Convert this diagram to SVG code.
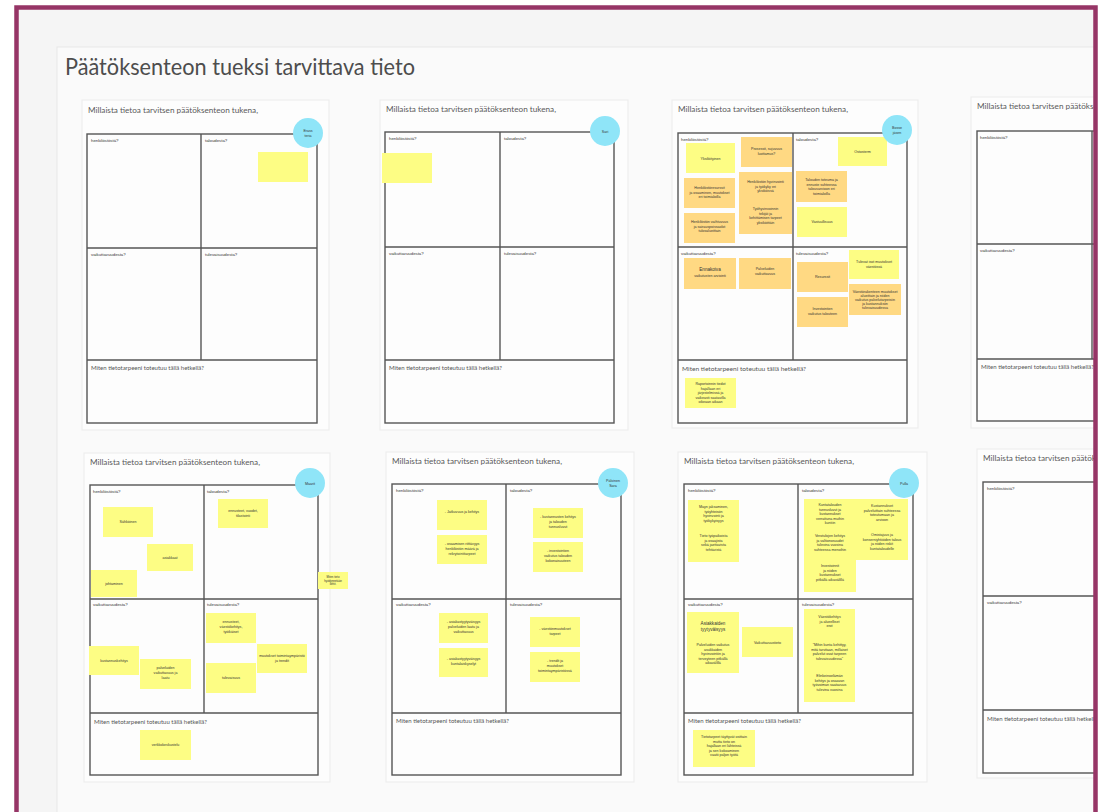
<svg xmlns="http://www.w3.org/2000/svg" width="1102" height="812" viewBox="0 0 1102 812">
<style>
.bg{fill:#f5f5f5}
.panel{fill:#fafafa;stroke:#e8e8e8;stroke-width:1}
.card{fill:#fdfdfd;stroke:#ebebeb;stroke-width:1}
.grid{fill:none;stroke:#555;stroke-width:1.4}
.title{font-family:Lato,"Liberation Sans",sans-serif;font-size:23px;fill:#4d4d4d}
.ct{font-family:Lato,"Liberation Sans",sans-serif;font-size:6.6px;fill:#5a5a5a}
.ql{font-family:"Liberation Sans",sans-serif;font-size:4.3px;fill:#333}
.bl{font-family:Lato,"Liberation Sans",sans-serif;font-size:6px;fill:#555}
.y{fill:#fdfd84}
.o{fill:#ffd983}
.st{font-family:"Liberation Sans",sans-serif;font-size:3.6px;fill:#333;text-anchor:middle}
.sb{font-family:"Liberation Sans",sans-serif;font-size:4.6px;fill:#333;text-anchor:middle}
.av{fill:#8fe5f8}
.at{font-family:"Liberation Sans",sans-serif;font-size:3.6px;fill:#333;text-anchor:middle}
.frame{fill:none;stroke:#963566;stroke-width:4.5}
</style>
<rect x="0" y="0" width="1102" height="812" fill="#ffffff"/>
<rect class="bg" x="16" y="7" width="1080" height="810"/>
<rect class="panel" x="57" y="47" width="1060" height="780"/>
<text class="title" x="65" y="75" textLength="350" lengthAdjust="spacingAndGlyphs">Päätöksenteon tueksi tarvittava tieto</text>

<!-- Card 1 -->
<g id="card1">
<rect class="card" x="82" y="100" width="247" height="330"/>
<text class="ct" x="88" y="113" textLength="170" lengthAdjust="spacingAndGlyphs">Millaista tietoa tarvitsen päätöksenteon tukena,</text>
<rect class="grid" x="87" y="134" width="230" height="289"/>
<line class="grid" x1="201" y1="134" x2="201" y2="360"/>
<line class="grid" x1="87" y1="248" x2="317" y2="248"/>
<line class="grid" x1="87" y1="360" x2="317" y2="360"/>
<text class="ql" x="91" y="142">henkilöstöstä?</text>
<text class="ql" x="205" y="142">taloudesta?</text>
<text class="ql" x="91" y="256">vaikuttavuudesta?</text>
<text class="ql" x="205" y="256">tulevaisuudesta?</text>
<text class="bl" x="91" y="370">Miten tietotarpeeni toteutuu tällä hetkellä?</text>
<rect class="y" x="258" y="152" width="50" height="30"/>
<circle class="av" cx="308" cy="133" r="15"/>
<text class="at" x="308" y="132">Erass</text>
<text class="at" x="308" y="137">teria</text>
</g>

<!-- Card 2 -->
<g id="card2">
<rect class="card" x="380" y="100" width="248" height="330"/>
<text class="ct" x="386" y="112" textLength="170" lengthAdjust="spacingAndGlyphs">Millaista tietoa tarvitsen päätöksenteon tukena,</text>
<rect class="grid" x="385" y="132" width="229" height="291"/>
<line class="grid" x1="500" y1="132" x2="500" y2="360"/>
<line class="grid" x1="385" y1="247" x2="614" y2="247"/>
<line class="grid" x1="385" y1="360" x2="614" y2="360"/>
<text class="ql" x="389" y="140">henkilöstöstä?</text>
<text class="ql" x="504" y="140">taloudesta?</text>
<text class="ql" x="389" y="255">vaikuttavuudesta?</text>
<text class="ql" x="504" y="255">tulevaisuudesta?</text>
<text class="bl" x="389" y="370">Miten tietotarpeeni toteutuu tällä hetkellä?</text>
<rect class="y" x="382" y="153" width="50" height="30"/>
<circle class="av" cx="605" cy="131" r="15"/>
<text class="at" x="605" y="133">Sari</text>
</g>

<!-- Card 3 -->
<g id="card3">
<rect class="card" x="672" y="100" width="246" height="328"/>
<text class="ct" x="678" y="112" textLength="170" lengthAdjust="spacingAndGlyphs">Millaista tietoa tarvitsen päätöksenteon tukena,</text>
<rect class="grid" x="678" y="133" width="229" height="290"/>
<line class="grid" x1="793" y1="133" x2="793" y2="360"/>
<line class="grid" x1="678" y1="247" x2="907" y2="247"/>
<line class="grid" x1="678" y1="360" x2="907" y2="360"/>
<text class="ql" x="681" y="141">henkilöstöstä?</text>
<text class="ql" x="796" y="141">taloudesta?</text>
<text class="ql" x="681" y="255">vaikuttavuudesta?</text>
<text class="ql" x="796" y="255">tulevaisuudesta?</text>
<text class="bl" x="682" y="371" textLength="124" lengthAdjust="spacingAndGlyphs">Miten tietotarpeeni toteutuu tällä hetkellä?</text>
<rect class="y" x="686" y="143" width="49" height="30"/>
<text class="st" x="710.5" y="159.5">Yksilöityinen</text>
<rect class="o" x="741" y="137" width="51" height="30"/>
<text class="st" x="766.5" y="150">Prosessit, sujuvuus</text>
<text class="st" x="766.5" y="155">luottamus?</text>
<rect class="o" x="684" y="178" width="51" height="30"/>
<text class="st" x="709.5" y="189">Henkilöstöresurssit</text>
<text class="st" x="709.5" y="193.5">ja osaaminen, muutokset</text>
<text class="st" x="709.5" y="198">eri toimialoilla</text>
<rect class="o" x="739" y="172" width="53" height="62"/>
<text class="st" x="765.5" y="183">Henkilöstön hyvinvointi</text>
<text class="st" x="765.5" y="187.5">ja työkyky eri</text>
<text class="st" x="765.5" y="192">yksiköissä</text>
<text class="st" x="765.5" y="210">Työhyvinvoinnin</text>
<text class="st" x="765.5" y="214.5">tekijät ja</text>
<text class="st" x="765.5" y="219">kehittämisen tarpeet</text>
<text class="st" x="765.5" y="223.5">yksiköittäin</text>
<rect class="o" x="684" y="213" width="51" height="30"/>
<text class="st" x="709.5" y="223">Henkilöstön vaihtuvuus</text>
<text class="st" x="709.5" y="227.5">ja sairauspoissaolot</text>
<text class="st" x="709.5" y="232">tulosalueittain</text>
<rect class="y" x="838" y="137" width="49" height="29"/>
<text class="st" x="862.5" y="153">Ostosterm</text>
<rect class="o" x="796" y="171" width="51" height="31"/>
<text class="st" x="821.5" y="181">Talouden toteuma ja</text>
<text class="st" x="821.5" y="185.5">ennuste suhteessa</text>
<text class="st" x="821.5" y="190">talousarvioon eri</text>
<text class="st" x="821.5" y="194.5">toimialoilla</text>
<rect class="y" x="797" y="207" width="50" height="30"/>
<text class="st" x="822" y="223">Vastuullisuus</text>
<rect class="o" x="684" y="258" width="52" height="31"/>
<text class="sb" x="710" y="271">Ennakoiva</text>
<text class="st" x="710" y="277">vaikutusten arviointi</text>
<rect class="o" x="739" y="258" width="52" height="31"/>
<text class="st" x="765" y="270">Palveluiden</text>
<text class="st" x="765" y="275">vaikuttavuus</text>
<rect class="o" x="797" y="262" width="51" height="30"/>
<text class="st" x="822.5" y="278">Resurssit</text>
<rect class="y" x="849" y="250" width="50" height="29"/>
<text class="st" x="874" y="263">Tulevat isot muutokset</text>
<text class="st" x="874" y="268">väestössä</text>
<rect class="o" x="849" y="284" width="52" height="31"/>
<text class="st" x="875" y="293">Väestörakenteen muutokset</text>
<text class="st" x="875" y="297">alueittain ja niiden</text>
<text class="st" x="875" y="301">vaikutus palvelutarpeisiin</text>
<text class="st" x="875" y="305">ja kustannuksiin</text>
<text class="st" x="875" y="309">tulevaisuudessa</text>
<rect class="o" x="797" y="297" width="51" height="30"/>
<text class="st" x="822.5" y="310">Investointien</text>
<text class="st" x="822.5" y="315">vaikutus talouteen</text>
<rect class="y" x="685" y="378" width="51" height="30"/>
<text class="st" x="710.5" y="385">Raportoinnin tiedot</text>
<text class="st" x="710.5" y="389.5">hajallaan eri</text>
<text class="st" x="710.5" y="394">järjestelmissä ja</text>
<text class="st" x="710.5" y="398.5">vaikeasti saatavilla</text>
<text class="st" x="710.5" y="403">oikeaan aikaan</text>
<circle class="av" cx="897" cy="130" r="15"/>
<text class="at" x="897" y="129">Bosse</text>
<text class="at" x="897" y="134">jäsen</text>
</g>

<!-- Card 4 (partial) -->
<g id="card4">
<rect class="card" x="971" y="97" width="160" height="331"/>
<text class="ct" x="977" y="109" textLength="170" lengthAdjust="spacingAndGlyphs">Millaista tietoa tarvitsen päätöksenteon tukena,</text>
<rect class="grid" x="977" y="131" width="230" height="290"/>
<line class="grid" x1="1092" y1="131" x2="1092" y2="359"/>
<line class="grid" x1="977" y1="244" x2="1207" y2="244"/>
<line class="grid" x1="977" y1="359" x2="1207" y2="359"/>
<text class="ql" x="980" y="139">henkilöstöstä?</text>
<text class="ql" x="980" y="252">vaikuttavuudesta?</text>
<text class="bl" x="981" y="369">Miten tietotarpeeni toteutuu tällä hetkellä?</text>
</g>

<!-- Card 5 -->
<g id="card5">
<rect class="card" x="84" y="453" width="246" height="329"/>
<text class="ct" x="90" y="465" textLength="170" lengthAdjust="spacingAndGlyphs">Millaista tietoa tarvitsen päätöksenteon tukena,</text>
<rect class="grid" x="90" y="485" width="228" height="290"/>
<line class="grid" x1="204" y1="485" x2="204" y2="713"/>
<line class="grid" x1="90" y1="599" x2="318" y2="599"/>
<line class="grid" x1="90" y1="713" x2="318" y2="713"/>
<text class="ql" x="93" y="493">henkilöstöstä?</text>
<text class="ql" x="207" y="493">taloudesta?</text>
<text class="ql" x="93" y="606">vaikuttavuudesta?</text>
<text class="ql" x="207" y="606">tulevaisuudesta?</text>
<text class="bl" x="94" y="724">Miten tietotarpeeni toteutuu tällä hetkellä?</text>
<rect class="y" x="103" y="507" width="50" height="30"/>
<text class="st" x="128" y="523">Sähköinen</text>
<rect class="y" x="147" y="544" width="46" height="27"/>
<text class="st" x="170" y="559">asiakkaat</text>
<rect class="y" x="91" y="570" width="46" height="27"/>
<text class="st" x="114" y="585">johtaminen</text>
<rect class="y" x="218" y="499" width="50" height="29"/>
<text class="st" x="243" y="512">ennusteet, vuodet,</text>
<text class="st" x="243" y="517">tilastointi</text>
<rect class="y" x="318" y="572" width="30" height="17"/>
<text class="st" x="333" y="578" style="font-size:2.8px">Miten tieto</text>
<text class="st" x="333" y="581.5" style="font-size:2.8px">hyödynnetään</text>
<text class="st" x="333" y="585" style="font-size:2.8px">kehit.</text>
<rect class="y" x="89" y="646" width="50" height="29"/>
<text class="st" x="114" y="662">kustannuskehitys</text>
<rect class="y" x="140" y="659" width="51" height="30"/>
<text class="st" x="165.5" y="669">palveluiden</text>
<text class="st" x="165.5" y="674">vaikuttavuus ja</text>
<text class="st" x="165.5" y="679">laatu</text>
<rect class="y" x="206" y="613" width="50" height="30"/>
<text class="st" x="231" y="623">ennusteet,</text>
<text class="st" x="231" y="628">väestökehitys,</text>
<text class="st" x="231" y="633">työikäiset</text>
<rect class="y" x="206" y="663" width="50" height="30"/>
<text class="st" x="231" y="679">tulevaisuus</text>
<rect class="y" x="257" y="644" width="50" height="29"/>
<text class="st" x="282" y="657">muutokset toimintaympäristö</text>
<text class="st" x="282" y="662">ja trendit</text>
<rect class="y" x="140" y="730" width="51" height="30"/>
<text class="st" x="165.5" y="746">verkkokeskustelu</text>
<circle class="av" cx="310" cy="483" r="15"/>
<text class="at" x="310" y="485">Maarit</text>
</g>

<!-- Card 6 -->
<g id="card6">
<rect class="card" x="386" y="452" width="248" height="330"/>
<text class="ct" x="392" y="464" textLength="170" lengthAdjust="spacingAndGlyphs">Millaista tietoa tarvitsen päätöksenteon tukena,</text>
<rect class="grid" x="392" y="484" width="229" height="291"/>
<line class="grid" x1="506" y1="484" x2="506" y2="713"/>
<line class="grid" x1="392" y1="599" x2="621" y2="599"/>
<line class="grid" x1="392" y1="713" x2="621" y2="713"/>
<text class="ql" x="396" y="492">henkilöstöstä?</text>
<text class="ql" x="510" y="492">taloudesta?</text>
<text class="ql" x="396" y="606">vaikuttavuudesta?</text>
<text class="ql" x="510" y="606">tulevaisuudesta?</text>
<text class="bl" x="396" y="723">Miten tietotarpeeni toteutuu tällä hetkellä?</text>
<rect class="y" x="437" y="500" width="50" height="30"/>
<text class="st" x="462" y="513">- Jatkuvuus ja kehitys</text>
<rect class="y" x="437" y="535" width="50" height="29"/>
<text class="st" x="462" y="545">- osaamisen riittävyys</text>
<text class="st" x="462" y="550">henkilöstön määrä ja</text>
<text class="st" x="462" y="555">rekrytointitarpeet</text>
<rect class="y" x="533" y="508" width="50" height="30"/>
<text class="st" x="558" y="518">- kustannusten kehitys</text>
<text class="st" x="558" y="523">ja talouden</text>
<text class="st" x="558" y="528">tunnusluvut</text>
<rect class="y" x="533" y="542" width="50" height="30"/>
<text class="st" x="558" y="552">- investointien</text>
<text class="st" x="558" y="557">vaikutus talouden</text>
<text class="st" x="558" y="562">kokonaisuuteen</text>
<rect class="y" x="439" y="613" width="49" height="30"/>
<text class="st" x="463.5" y="623">- asiakastyytyväisyys</text>
<text class="st" x="463.5" y="628">palveluiden laatu ja</text>
<text class="st" x="463.5" y="633">vaikuttavuus</text>
<rect class="y" x="439" y="648" width="49" height="29"/>
<text class="st" x="463.5" y="660">- asiakastyytyväisyys</text>
<text class="st" x="463.5" y="665">kuntalaiskyselyt</text>
<rect class="y" x="530" y="617" width="50" height="30"/>
<text class="st" x="555" y="630">- väestönmuutokset</text>
<text class="st" x="555" y="635">tarpeet</text>
<rect class="y" x="530" y="652" width="50" height="30"/>
<text class="st" x="555" y="662">- trendit ja</text>
<text class="st" x="555" y="667">muutokset</text>
<text class="st" x="555" y="672">toimintaympäristössä</text>
<circle class="av" cx="613" cy="483" r="15"/>
<text class="at" x="613" y="482">Pälvinen</text>
<text class="at" x="613" y="487">Sara</text>
</g>

<!-- Card 7 -->
<g id="card7">
<rect class="card" x="678" y="452" width="249" height="330"/>
<text class="ct" x="684" y="464" textLength="170" lengthAdjust="spacingAndGlyphs">Millaista tietoa tarvitsen päätöksenteon tukena,</text>
<rect class="grid" x="684" y="484" width="229" height="291"/>
<line class="grid" x1="798" y1="484" x2="798" y2="713"/>
<line class="grid" x1="684" y1="599" x2="913" y2="599"/>
<line class="grid" x1="684" y1="713" x2="913" y2="713"/>
<text class="ql" x="688" y="492">henkilöstöstä?</text>
<text class="ql" x="802" y="492">taloudesta?</text>
<text class="ql" x="688" y="606">vaikuttavuudesta?</text>
<text class="ql" x="802" y="606">tulevaisuudesta?</text>
<text class="bl" x="688" y="723">Miten tietotarpeeni toteutuu tällä hetkellä?</text>
<rect class="y" x="688" y="500" width="51" height="62"/>
<text class="st" x="713.5" y="508">Mayn jaksaminen,</text>
<text class="st" x="713.5" y="512.5">työyhteisön</text>
<text class="st" x="713.5" y="517">hyvinvointi ja</text>
<text class="st" x="713.5" y="521.5">työkykyisyys</text>
<text class="st" x="713.5" y="537">Tieto työpaikoista</text>
<text class="st" x="713.5" y="541.5">ja osaajista</text>
<text class="st" x="713.5" y="546">sekä jaettavista</text>
<text class="st" x="713.5" y="550.5">tehtävistä</text>
<rect class="y" x="804" y="499" width="52" height="93"/>
<text class="st" x="830" y="506">Kuntatalouden</text>
<text class="st" x="830" y="510.5">tunnusluvut ja</text>
<text class="st" x="830" y="515">kustannukset</text>
<text class="st" x="830" y="519.5">verrattuna muihin</text>
<text class="st" x="830" y="524">kuntiin</text>
<text class="st" x="830" y="537">Verotulojen kehitys</text>
<text class="st" x="830" y="541.5">ja valtionosuudet</text>
<text class="st" x="830" y="546">tulevina vuosina</text>
<text class="st" x="830" y="550.5">suhteessa menoihin</text>
<text class="st" x="830" y="567">Investoinnit</text>
<text class="st" x="830" y="571.5">ja niiden</text>
<text class="st" x="830" y="576">kustannukset</text>
<text class="st" x="830" y="580.5">pitkällä aikavälillä</text>
<rect class="y" x="856" y="499" width="52" height="61"/>
<text class="st" x="882" y="507">Kustannukset</text>
<text class="st" x="882" y="511.5">palveluittain suhteessa</text>
<text class="st" x="882" y="516">toteutumaan ja</text>
<text class="st" x="882" y="520.5">arvioon</text>
<text class="st" x="882" y="536">Omistajuus ja</text>
<text class="st" x="882" y="540.5">konserniyhtiöiden talous</text>
<text class="st" x="882" y="545">ja niiden riskit</text>
<text class="st" x="882" y="549.5">kuntataloudelle</text>
<rect class="y" x="687" y="612" width="52" height="61"/>
<text class="sb" x="713" y="625">Asiakkaiden</text>
<text class="sb" x="713" y="630.5">tyytyväisyys</text>
<text class="st" x="713" y="646">Palveluiden vaikutus</text>
<text class="st" x="713" y="650.5">asukkaiden</text>
<text class="st" x="713" y="655">hyvinvointiin ja</text>
<text class="st" x="713" y="659.5">terveyteen pitkällä</text>
<text class="st" x="713" y="664">aikavälillä</text>
<rect class="y" x="742" y="627" width="51" height="30"/>
<text class="st" x="767.5" y="643.5">Vaikuttavuustieto</text>
<rect class="y" x="804" y="609" width="51" height="93"/>
<text class="st" x="829.5" y="618">Väestökehitys</text>
<text class="st" x="829.5" y="622.5">ja alueelliset</text>
<text class="st" x="829.5" y="627">erot</text>
<text class="st" x="829.5" y="646">"Mihin kunta kehittyy,</text>
<text class="st" x="829.5" y="650.5">mitä tarvitaan, millaiset</text>
<text class="st" x="829.5" y="655">palvelut ovat tarpeen</text>
<text class="st" x="829.5" y="659.5">tulevaisuudessa"</text>
<text class="st" x="829.5" y="677">Elinkeinoelämän</text>
<text class="st" x="829.5" y="681.5">kehitys ja osaavan</text>
<text class="st" x="829.5" y="686">työvoiman saatavuus</text>
<text class="st" x="829.5" y="690.5">tulevina vuosina</text>
<rect class="y" x="693" y="730" width="62" height="37"/>
<text class="st" x="724" y="738">Tietotarpeet täyttyvät osittain</text>
<text class="st" x="724" y="742.5">mutta tieto on</text>
<text class="st" x="724" y="747">hajallaan eri lähteissä</text>
<text class="st" x="724" y="751.5">ja sen kokoaminen</text>
<text class="st" x="724" y="756">vaatii paljon työtä</text>
<circle class="av" cx="904" cy="483" r="15"/>
<text class="at" x="904" y="485">Pulla</text>
</g>

<!-- Card 8 (partial) -->
<g id="card8">
<rect class="card" x="977" y="449" width="160" height="329"/>
<text class="ct" x="983" y="461" textLength="170" lengthAdjust="spacingAndGlyphs">Millaista tietoa tarvitsen päätöksenteon tukena,</text>
<rect class="grid" x="983" y="482" width="230" height="291"/>
<line class="grid" x1="983" y1="596" x2="1213" y2="596"/>
<line class="grid" x1="983" y1="710" x2="1213" y2="710"/>
<text class="ql" x="987" y="490">henkilöstöstä?</text>
<text class="ql" x="987" y="604">vaikuttavuudesta?</text>
<text class="bl" x="987" y="721">Miten tietotarpeeni toteutuu tällä hetkellä?</text>
</g>

<g id="connectors"></g>

<rect x="1096" y="0" width="6" height="812" fill="#ffffff"/>
<rect x="0" y="0" width="1102" height="5" fill="#ffffff"/>
<rect x="0" y="0" width="14" height="812" fill="#ffffff"/>
<path class="frame" d="M16.5,825 L16.5,7.5 L1095.5,7.5 L1095.5,825"/>
</svg>
